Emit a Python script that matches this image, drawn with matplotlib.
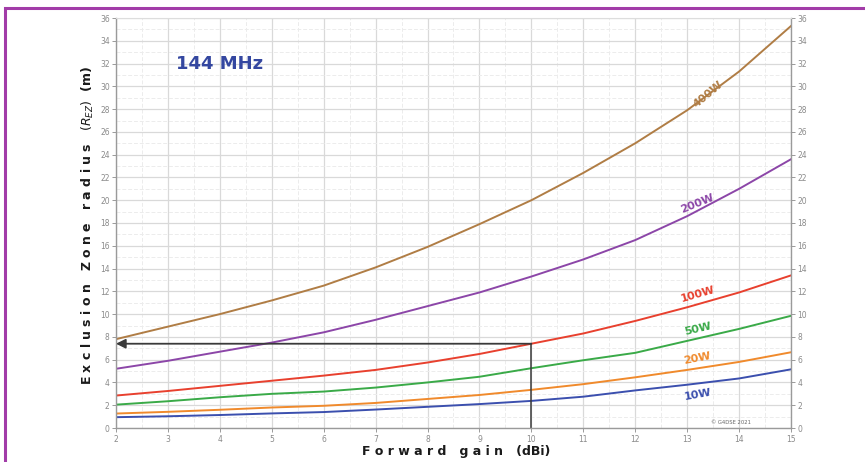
import matplotlib
matplotlib.use("Agg")
import matplotlib.pyplot as plt
from matplotlib.patches import Rectangle
import numpy as np

# Forward gain (dBi) sample points
gain_dbi = [2, 3, 4, 5, 6, 7, 8, 9, 10, 11, 12, 13, 14, 15]

# Exclusion zone radius (m) for each transmitter power
r_400w = [7.8, 8.9, 10.0, 11.2, 12.5, 14.1, 15.9, 17.9, 20.0, 22.4, 25.0, 27.9, 31.3, 35.3]
r_200w = [5.2, 5.9, 6.7, 7.5, 8.4, 9.5, 10.7, 11.9, 13.3, 14.8, 16.5, 18.6, 21.0, 23.6]
r_100w = [2.85, 3.25, 3.7, 4.15, 4.6, 5.1, 5.75, 6.5, 7.4, 8.3, 9.4, 10.6, 11.9, 13.4]
r_50w = [2.05, 2.35, 2.7, 3.0, 3.2, 3.55, 4.0, 4.5, 5.25, 5.95, 6.6, 7.65, 8.7, 9.85]
r_20w = [1.27, 1.42, 1.6, 1.8, 1.95, 2.2, 2.55, 2.9, 3.35, 3.85, 4.45, 5.1, 5.8, 6.65]
r_10w = [0.95, 1.03, 1.14, 1.28, 1.4, 1.62, 1.86, 2.1, 2.38, 2.75, 3.3, 3.8, 4.35, 5.15]

power_labels = ["400W", "200W", "100W", "50W", "20W", "10W"]

# Worked example: 100 W at 10 dBi
example_gain = 10
example_radius = 7.4

series = [r_400w, r_200w, r_100w, r_50w, r_20w, r_10w]
colors = ["#b07d45", "#8c46a8", "#e8402e", "#3aaa48", "#f08a2c", "#3b4fae"]
label_pos = [(13.4, 29.3, 40), (13.2, 19.7, 22), (13.2, 11.7, 16),
             (13.2, 8.7, 13), (13.2, 6.1, 11), (13.2, 2.95, 10)]

fig = plt.figure(figsize=(8.65, 4.62), dpi=100)
fig.patch.set_facecolor("white")

# purple frame around the panel
fig.patches.append(Rectangle((5 / 865, -0.2), 1.2, (462 - 8) / 462 + 0.2,
                             transform=fig.transFigure, fill=False,
                             edgecolor="#a23ca8", linewidth=2.2))

ax = fig.add_axes([116 / 865, 34 / 462, 675 / 865, 410 / 462])
ax.set_xlim(2, 15)
ax.set_ylim(0, 36)

# grid: majors solid, minors faint
ax.set_xticks(np.arange(2, 16, 1))
ax.set_xticks(np.arange(2.5, 15, 1), minor=True)
ax.set_yticks(np.arange(0, 37, 2))
ax.set_yticks(np.arange(1, 36, 2), minor=True)
ax.grid(which="major", color="#d9d9d9", linewidth=0.9)
ax.grid(which="minor", color="#ececec", linewidth=0.7, linestyle=(0, (4, 2)))
ax.set_axisbelow(True)

for s in ["left", "bottom", "right"]:
    ax.spines[s].set_color("#9a9a9a")
    ax.spines[s].set_linewidth(1.0)
ax.spines["top"].set_color("#dddddd")

ax.tick_params(axis="both", which="major", labelsize=5.5, colors="#8a8a8a",
               length=3, width=0.6, labelcolor="#8a8a8a")
ax.tick_params(which="minor", length=0)
ax.tick_params(axis="y", right=True, labelright=True, pad=1.5)
ax.tick_params(axis="x", pad=2)

for ys, c in zip(series, colors):
    ax.plot(gain_dbi, ys, color=c, linewidth=1.4)

for lbl, c, (lx, ly, rot) in zip(power_labels, colors, label_pos):
    ax.text(lx, ly, lbl, color=c, fontsize=8, fontweight="bold",
            rotation=rot, ha="center", va="center")

# worked example lines
ax.plot([example_gain, example_gain], [0, example_radius], color="#3a3a3a", linewidth=1.1)
ax.annotate("", xy=(2.0, example_radius), xytext=(example_gain, example_radius),
            arrowprops=dict(arrowstyle="-|>", color="#3a3a3a", lw=1.3,
                            mutation_scale=14, shrinkA=0, shrinkB=0))

ax.text(4.0, 32.0, "144 MHz", color="#3447a0", fontsize=13, fontweight="bold",
        ha="center", va="center")
ax.text(13.85, 0.45, "© G4DSE 2021", color="#666666", fontsize=3.8,
        ha="center", va="center")

fig.text(456 / 865, 1 - 452 / 462, "F o r w a r d   g a i n   (dBi)",
         fontsize=9, fontweight="bold", ha="center", va="center", color="#1a1a1a")
fig.text(88 / 865, 1 - 226 / 462,
         r"E x c l u s i o n   Z o n e   r a d i u s   $(R_{EZ})$  (m)",
         fontsize=9, fontweight="bold", ha="center", va="center",
         rotation=90, color="#1a1a1a")

fig.savefig("out.png", dpi=100)
